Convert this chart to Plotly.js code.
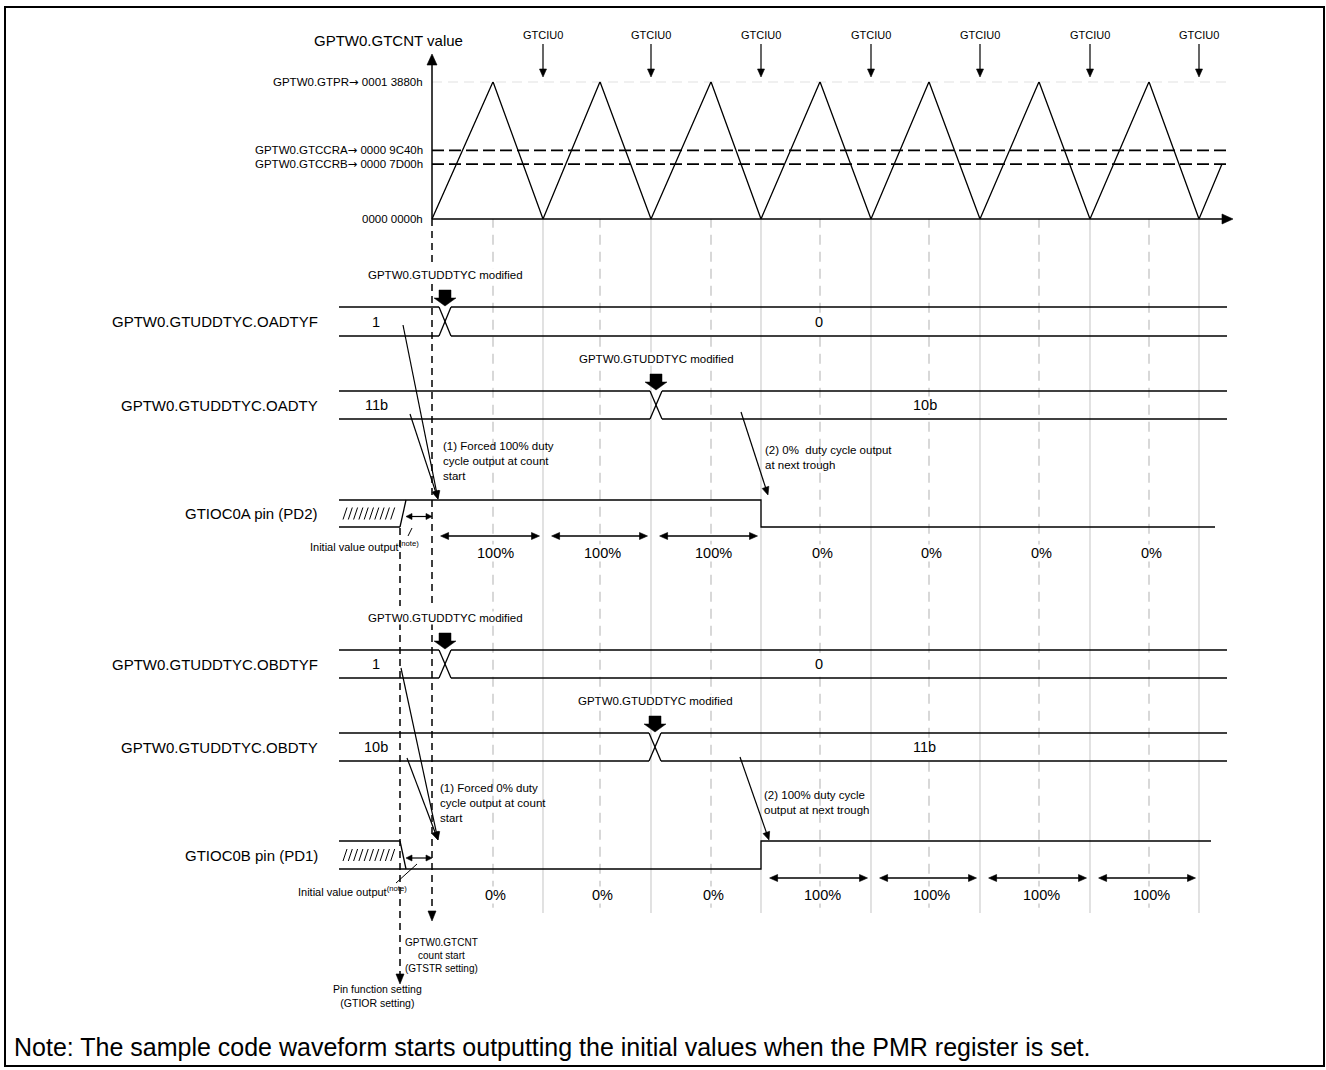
<!DOCTYPE html>
<html><head><meta charset="utf-8">
<script src="https://cdn.plot.ly/plotly-3.0.1.min.js"></script>
<style>html,body{margin:0;padding:0;background:#fff}#chart{width:1326px;height:1070px}</style>
</head><body><div id="chart"></div>
<script>
// ---------------- data (time axis: arbitrary units, 0 = GTCNT count start) ----------------
const troughT = [0, 111, 219, 329, 439, 548, 658, 767];      // GTCNT troughs (GTCIU0 events)
const peakT = [61, 168, 279, 388, 497, 607, 717];             // GTCNT peaks (= GTPR)
const lastRiseT = 790;                                        // last drawn point of the count
const GTPR = 0x13880, GTCCRA = 0x9C40, GTCCRB = 0x7D00;
const levelValues = [GTPR, GTCCRA, GTCCRB, 0];
const levelNames = ['GPTW0.GTPR', 'GPTW0.GTCCRA', 'GPTW0.GTCCRB', ''];
const levelHex = ['0001 3880h', '0000 9C40h', '0000 7D00h', '0000 0000h'];
const eventLabel = 'GTCIU0';
const regNames = ['GPTW0.GTUDDTYC.OADTYF', 'GPTW0.GTUDDTYC.OADTY', 'GPTW0.GTUDDTYC.OBDTYF', 'GPTW0.GTUDDTYC.OBDTY'];
const regValuesBefore = ['1', '11b', '1', '10b'];
const regValuesAfter = ['0', '10b', '0', '11b'];
const regChangeT = [13, 224, 13, 223];
const pinNames = ['GTIOC0A pin (PD2)', 'GTIOC0B pin (PD1)'];
const pinInitial = [1, 0];
const dutyA = [100, 100, 100, 0, 0, 0, 0];
const dutyB = [0, 0, 0, 100, 100, 100, 100];
const pinFuncT = -32;     // pin function setting (GTIOR)
const countStartT = 0;    // GTSTR
const noteText = 'Note: The sample code waveform starts outputting the initial values when the PMR register is set.';

// ---------------- drawing ----------------
const F = 'Liberation Sans, Arial, Helvetica, sans-serif';
const K = '#000', G = '#c4c4c4', G2 = '#d2d2d2';
const shapes = [], ann = [], traces = [];
const X0 = -93, REG_END = 795, PIN_END = [783, 779];
const CNT_Y0 = 219, CNT_YTOP = 81.7, H = 1070;

function seg(x0, y0, x1, y1, o) { o = o || {}; shapes.push({type:'line', xref:'x', yref:o.yref || 'y', x0:x0, y0:y0, x1:x1, y1:y1, layer:o.layer || 'above', line:{color:o.color || K, width:o.w || 1.3, dash:o.dash || 'solid'}}); }
function head(x, y, dx, dy, L, W) {
  const n = Math.hypot(dx, dy), ux = dx / n, uy = dy / n, bx = x - ux * L, by = y - uy * L, px = -uy * W, py = ux * W;
  shapes.push({type:'path', xref:'x', yref:'y', path:'M' + x + ',' + y + ' L' + (bx + px) + ',' + (by + py) + ' L' + (bx - px) + ',' + (by - py) + ' Z', fillcolor:K, line:{color:K, width:0.6}});
}
function arrow(x0, y0, x1, y1, o) {
  o = o || {}; const L = o.L || 8, W = o.W || 3.5;
  const dx = x1 - x0, dy = y1 - y0, n = Math.hypot(dx, dy), ux = dx / n, uy = dy / n;
  let sx = x0, sy = y0;
  if (o.both) { sx = x0 + ux * (L - 1); sy = y0 + uy * (L - 1); head(x0, y0, -dx, -dy, L, W); }
  seg(sx, sy, x1 - ux * (L - 1), y1 - uy * (L - 1), o); head(x1, y1, dx, dy, L, W);
}
function txt(x, y, t, size, xa, o) { ann.push(Object.assign({x:x, y:y, xref:'x', yref:'y', text:t, showarrow:false, xanchor:xa || 'center', yanchor:'middle', align:xa === 'right' ? 'right' : (xa === 'left' ? 'left' : 'center'), font:{family:F, size:size, color:K}}, o || {})); }
const WB = {bgcolor:'#fff', borderpad:0};
// vertical dashed line with gaps (for labels lying across it)
function vdash(x, y0, y1, gaps) {
  let s = y0;
  gaps.forEach(g => { if (g[0] > s) seg(x, s, x, g[0], {dash:'7px,5px', w:1.5}); s = Math.max(s, g[1]); });
  seg(x, s, x, y1, {dash:'7px,5px', w:1.5});
}

// border
shapes.push({type:'rect', xref:'x', yref:'y', x0:-427, x1:892, y0:7, y1:1066, line:{color:K, width:2}, fillcolor:'rgba(0,0,0,0)'});

// grid lines at troughs / peaks
for (let k = 1; k < troughT.length; k++) seg(troughT[k], CNT_YTOP, troughT[k], 913, {color:G2, w:1.3, layer:'below'});
for (let k = 0; k < peakT.length; k++) seg(peakT[k], CNT_YTOP, peakT[k], 913, {color:G, w:1.3, dash:'10px,7px', layer:'below'});

// counter waveform
const cntX = [], cntY = [];
for (let i = 0; i < troughT.length; i++) { cntX.push(troughT[i]); cntY.push(0); if (i < peakT.length) { cntX.push(peakT[i]); cntY.push(GTPR); } }
cntX.push(lastRiseT); cntY.push(GTCCRB);
traces.push({x:cntX, y:cntY, xaxis:'x', yaxis:'y2', mode:'lines', line:{color:K, width:1.3}, hoverinfo:'skip'});

seg(0, GTPR, REG_END, GTPR, {yref:'y2', color:G, dash:'10px,6px', w:1.3, layer:'below'});
seg(0, GTCCRA, REG_END, GTCCRA, {yref:'y2', dash:'12px,5px', w:1.6});
seg(0, GTCCRB, REG_END, GTCCRB, {yref:'y2', dash:'12px,5px', w:1.6});
levelValues.forEach((v, i) => {
  const t = levelNames[i] ? levelNames[i] + '<span style="font-family:DejaVu Sans">\u2192</span> ' + levelHex[i] : levelHex[i];
  ann.push({x:-7, y:v, xref:'x', yref:'y2', text:t, showarrow:false, xanchor:'right', yanchor:'middle', font:{family:F, size:11.5, color:K}});
});

// axes
seg(0, CNT_Y0, 0, 64, {w:1.5}); head(0, 54, 0, -1, 11, 5);
seg(0, CNT_Y0, 792, CNT_Y0, {w:1.5}); head(801, CNT_Y0, 1, 0, 11, 5);
txt(-120, 40, 'GPTW0.GTCNT value', 15, 'left');

// GTCIU0 events
for (let k = 1; k < troughT.length; k++) { txt(troughT[k], 35, eventLabel, 11); arrow(troughT[k], 44, troughT[k], 77, {L:8, W:3.5, w:1.2}); }

// register rows
const regRows = [[307, 336], [391, 419], [650, 678], [733, 761]];
for (let i = 0; i < 4; i++) {
  const top = regRows[i][0], bot = regRows[i][1], tc = regChangeT[i], w = 6, mid = (top + bot) / 2;
  seg(X0, top, tc - w, top); seg(X0, bot, tc - w, bot);
  seg(tc - w, top, tc + w, bot); seg(tc - w, bot, tc + w, top);
  seg(tc + w, top, REG_END, top); seg(tc + w, bot, REG_END, bot);
  txt(-56, mid, regValuesBefore[i], 14.5);
  txt((tc + w + REG_END) / 2 - 20, mid, regValuesAfter[i], 14.5, 'center', WB);
  txt(tc, top - 32, 'GPTW0.GTUDDTYC modified', 11.5, 'center', WB);
  shapes.push({type:'path', xref:'x', yref:'y', path:'M' + (tc - 6) + ',' + (top - 17) + ' L' + (tc + 6) + ',' + (top - 17) + ' L' + (tc + 6) + ',' + (top - 9) + ' L' + (tc + 11) + ',' + (top - 9) + ' L' + tc + ',' + (top - 1) + ' L' + (tc - 11) + ',' + (top - 9) + ' L' + (tc - 6) + ',' + (top - 9) + ' Z', fillcolor:K, line:{color:K, width:0.5}});
  txt(-112, mid, regNames[i], 15, 'right');
}

// pin rows
const pinRows = [[500, 527], [841, 869]];
const duties = [dutyA, dutyB];
const leader = [[-20, 528, -24, 536], [-15, 864, -36, 883]];
const initTxt = [[-11, 546], [-23, 891]];
for (let p = 0; p < 2; p++) {
  const hi = pinRows[p][0], lo = pinRows[p][1], mid = (hi + lo) / 2, init = pinInitial[p], duty = duties[p];
  const lvl = v => v ? hi : lo, other = init ? lo : hi;
  seg(X0, lvl(init), pinFuncT + 6, lvl(init)); seg(X0, other, pinFuncT, other); seg(pinFuncT, other, pinFuncT + 6, lvl(init));
  for (let i = 0; i < 10; i++) { const xs = X0 + 4 + i * 5.3; seg(xs, mid + 6, xs + 4, mid - 6, {w:1}); }
  const xs = [pinFuncT + 6], ys = [lvl(init)];
  for (let k = 0; k < duty.length; k++) { xs.push(troughT[k]); ys.push(lvl(duty[k] === 100)); }
  xs.push(PIN_END[p]); ys.push(lvl(duty[duty.length - 1] === 100));
  traces.push({x:xs, y:ys, xaxis:'x', yaxis:'y', mode:'lines', line:{color:K, width:1.3, shape:'hv'}, hoverinfo:'skip'});
  arrow(pinFuncT + 6, mid + 3, countStartT, mid + 3, {both:true, L:6, W:3, w:1.2});
  const l = leader[p]; seg(l[0], l[1], l[2], l[3], {w:1});
  txt(initTxt[p][0], initTxt[p][1], 'Initial value output<sup>(note)</sup>', 11, 'right');
  for (let k = 0; k < duty.length; k++) {
    if (duty[k] === 100) arrow(troughT[k] + 8.6, lo + 9, troughT[k + 1] - 3.5, lo + 9, {both:true, L:8, W:3.5, w:1.3});
    txt(peakT[k] + 2, lo + 26, duty[k] + '%', 14.5, 'center', WB);
  }
  txt(-112, mid, pinNames[p], 15, 'right');
}

// explanatory notes
txt(9, 461, '(1) Forced 100% duty<br>cycle output at count<br>start', 11.5, 'left');
arrow(-29, 325, 6, 499, {w:1.2}); arrow(-22, 414, 6, 499, {w:1.2});
txt(331, 457, '(2) 0%  duty cycle output<br>at next trough', 11.5, 'left');
arrow(309, 412, 336, 495, {w:1.2});
txt(6, 803, '(1) Forced 0% duty<br>cycle output at count<br>start', 11.5, 'left');
arrow(-31, 668, 6, 840, {w:1.2}); arrow(-25, 758, 6, 840, {w:1.2});
txt(330, 802, '(2) 100% duty cycle<br>output at next trough', 11.5, 'left');
arrow(308, 757, 337, 840, {w:1.2});

// count start / pin function markers
vdash(countStartT, CNT_Y0, 912, [[267, 284], [606, 623]]); head(countStartT, 921, 0, 1, 10, 4);
vdash(pinFuncT, 528, 975, [[606, 623]]); head(pinFuncT, 984, 0, 1, 10, 4);
txt(9, 955, 'GPTW0.GTCNT<br>count start<br>(GTSTR setting)', 10);
txt(-55, 996, 'Pin function setting<br>(GTIOR setting)', 10.5);

txt(-420, 1047, noteText, 25, 'left');

const layout = {
  width:1326, height:1070, margin:{l:0, r:0, t:0, b:0}, paper_bgcolor:'#fff', plot_bgcolor:'#fff', showlegend:false,
  xaxis:{range:[-432, 894], visible:false, fixedrange:true},
  yaxis:{range:[H, 0], visible:false, domain:[0, 1], fixedrange:true},
  yaxis2:{range:[0, GTPR], visible:false, anchor:'x', domain:[1 - CNT_Y0 / H, 1 - CNT_YTOP / H], fixedrange:true},
  shapes:shapes, annotations:ann, hovermode:false
};
Plotly.newPlot('chart', traces, layout, {staticPlot:true, displayModeBar:false});
</script></body></html>
